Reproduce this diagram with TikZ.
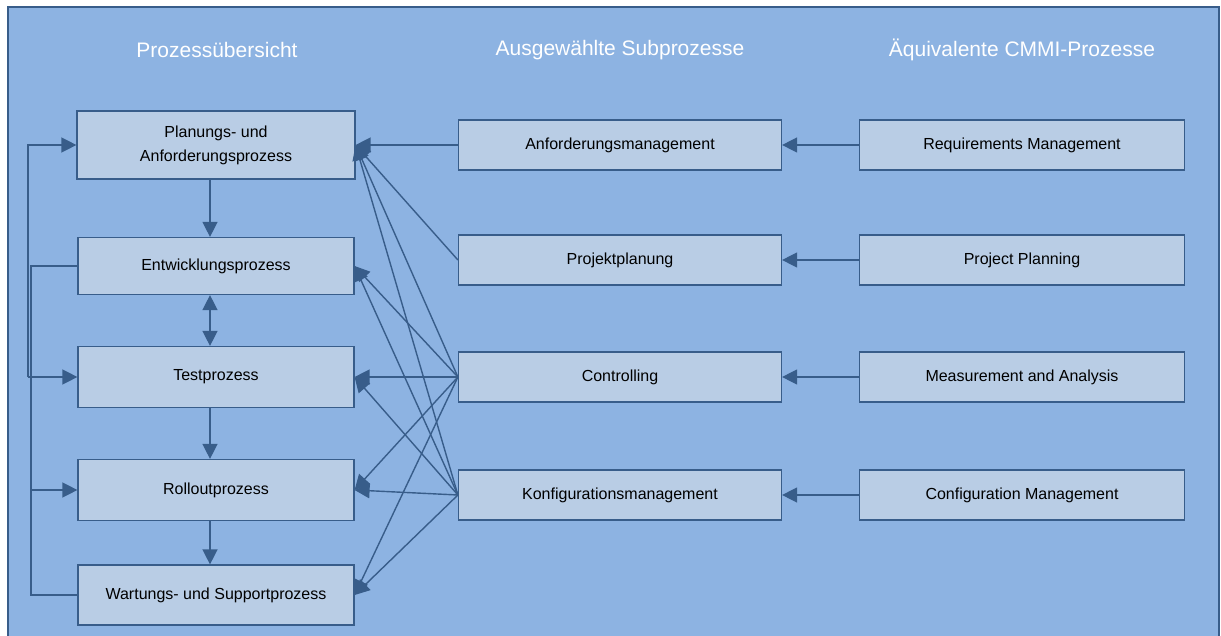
\documentclass[tikz,border=0pt]{standalone}
\usepackage{fontspec}
\setmainfont{Liberation Sans}
\usetikzlibrary{arrows.meta}
\definecolor{bgblue}{HTML}{8DB3E2}
\definecolor{boxfill}{HTML}{B9CDE5}
\definecolor{linec}{HTML}{385D8A}

\begin{document}
\begin{tikzpicture}[x=1pt,y=-1pt,->,>={Triangle[length=15pt,width=15pt]},
    every edge/.style={draw=linec,line width=1.4pt},
    box/.style={draw=linec,fill=boxfill,line width=1.2pt,inner sep=2pt,align=center,
      font=\fontsize{16}{24}\selectfont},
    leftbox/.style={box,minimum width=276pt,minimum height=60pt},
    subbox/.style={box,minimum width=323pt,minimum height=50pt},
    cmmibox/.style={box,minimum width=325pt,minimum height=50pt},
    head/.style={text=white,font=\fontsize{21}{25}\selectfont}]
                \useasboundingbox (0,0) rectangle (1221,636);
                \fill[bgblue] (8,7) rectangle (1219,640);
                \draw[-,linec,line width=2pt] (8,640) -- (8,7) -- (1219,7) -- (1219,640);
                % Spaltenkoepfe
                \node[head](hUebersicht)at(217, 50){Prozessübersicht};
                \node[head](hSub)at(620, 50){Ausgewählte Subprozesse};
                \node[head](hCmmi)at(1022, 50){Äquivalente CMMI-Prozesse};
                % Prozesse
                \node[leftbox,minimum width=278pt,minimum height=68pt](plan)at(216, 145){Planungs- und\\Anforderungsprozess};
                \node[leftbox,minimum height=57pt](entw)at(216, 266){Entwicklungsprozess};
                \node[leftbox,minimum height=61pt](test)at(216, 377){Testprozess};
                \node[leftbox,minimum height=61pt](roll)at(216, 490){Rolloutprozess};
                \node[leftbox](wart)at(216, 595){Wartungs- und Supportprozess};
                % Subprozesse
                \node[subbox](anf)at(620, 145){Anforderungsmanagement};
                \node[subbox](proj)at(620, 260){Projektplanung};
                \node[subbox](contr)at(620, 377){Controlling};
                \node[subbox](konf)at(620, 495){Konfigurationsmanagement};
                % CMMI
                \node[cmmibox](req)at(1022, 145){Requirements Management};
                \node[cmmibox](pp)at(1022, 260){Project Planning};
                \node[cmmibox](ma)at(1022, 377){Measurement and Analysis};
                \node[cmmibox](cm)at(1022, 495){Configuration Management};
                \path[](req.west) edge (anf.east)
                (pp.west) edge (proj.east)
                (ma.west) edge (contr.east)
                (cm.west) edge (konf.east)
                (anf.west) edge (plan.east)
                (proj.west) edge (plan.east)
                (contr.west) edge (plan.east) edge (entw.east) edge (test.east) edge (roll.east) edge (wart.east)
                (konf.west) edge (plan.east) edge (entw.east) edge (test.east) edge (roll.east) edge (wart.east)
                ([xshift=-6pt]plan.south) edge ([xshift=-6pt]entw.north)
                ([xshift=-6pt]entw.south) edge[<->] ([xshift=-6pt]test.north)
                ([xshift=-6pt]test.south) edge ([xshift=-6pt]roll.north)
                ([xshift=-6pt]roll.south) edge ([xshift=-6pt]wart.north);
                % Rueckkopplung
                \coordinate (busA) at (28, 377);
                \coordinate (busB) at (31, 266);
                \draw[-,linec,line width=1.4pt](entw.west) -- (busB) |- (wart.west);
                \draw[linec,line width=1.4pt](busB |- roll.west) -- (roll.west);
                \draw[linec,line width=1.4pt](busA) |- (plan.west);
                \draw[linec,line width=1.4pt](busA) -- (test.west);
            \end{tikzpicture}
\end{document}
